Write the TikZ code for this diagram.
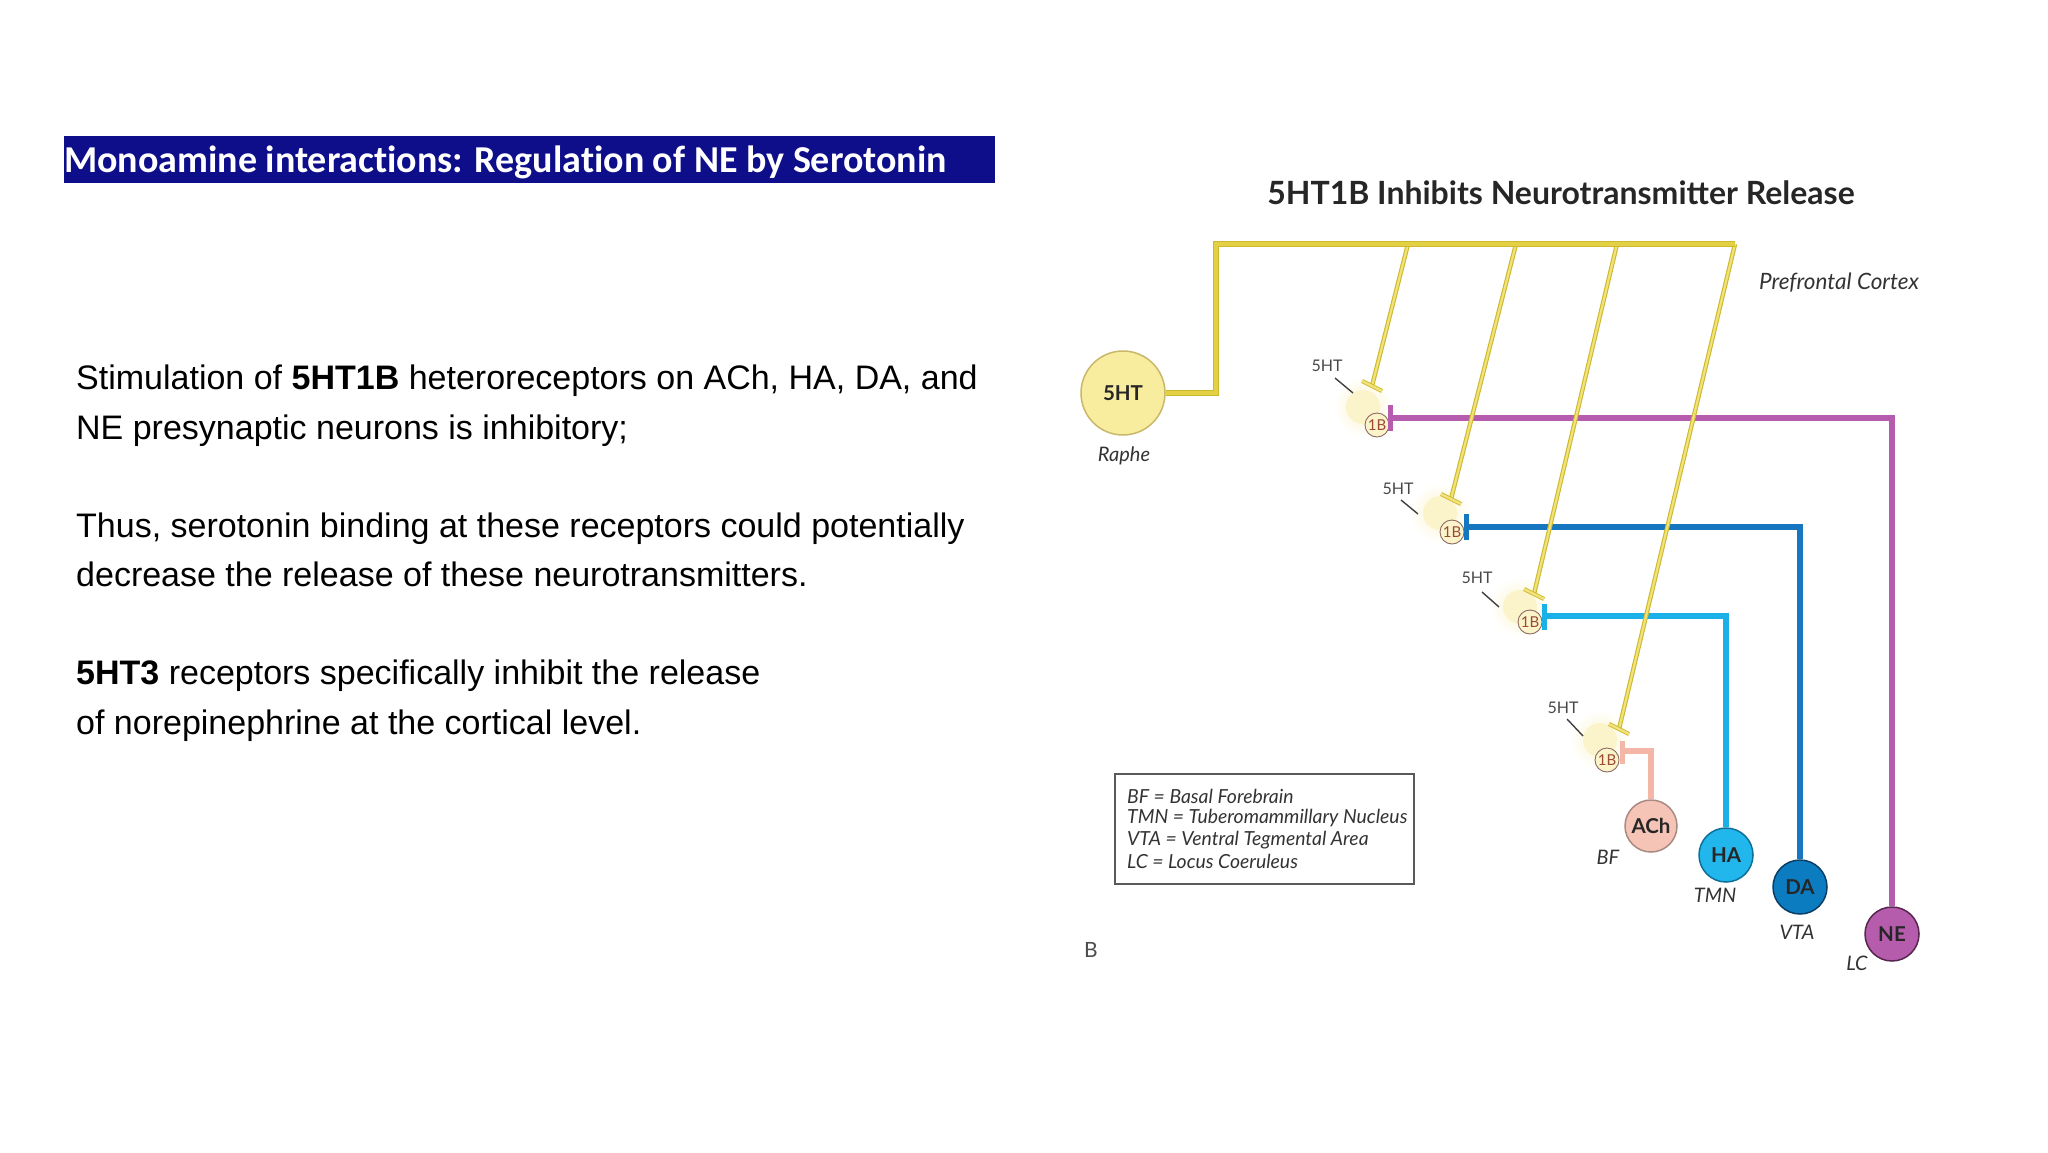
\documentclass[tikz,border=0pt]{standalone}
\usepackage{fontspec}
\setmainfont{Liberation Sans}
\newfontfamily\calib[Ligatures=NoCommon]{Carlito}
\newfontfamily\lato{Lato}
\usetikzlibrary{calc}
\definecolor{navy}{HTML}{0E0E8A}
\definecolor{serA}{HTML}{CDB92C}
\definecolor{serB}{HTML}{F1E27C}
\definecolor{serM}{HTML}{E3D044}
\definecolor{fiveF}{HTML}{F8EC9E}
\definecolor{fiveD}{HTML}{C9B76B}
\definecolor{achF}{HTML}{F6C4B6}
\definecolor{achD}{HTML}{A98A82}
\definecolor{achL}{HTML}{F4B6A6}
\definecolor{haF}{HTML}{21B7EC}
\definecolor{haD}{HTML}{0E6F98}
\definecolor{haL}{HTML}{1CB0E8}
\definecolor{daF}{HTML}{0C7CC0}
\definecolor{daD}{HTML}{0A3E66}
\definecolor{daL}{HTML}{1677C0}
\definecolor{neF}{HTML}{B65CAC}
\definecolor{neD}{HTML}{57264F}
\definecolor{neL}{HTML}{B65CAE}
\definecolor{blobC}{HTML}{FBF4CB}
\definecolor{oneB}{HTML}{9A4A35}
\definecolor{oneBd}{HTML}{8B6A60}
\definecolor{lab}{HTML}{333333}
\tikzset{
  bodytxt/.style={anchor=base west, inner sep=0, font=\fontsize{34}{40}\selectfont},
  neur/.style={circle, inner sep=0, line width=1.5pt, text=black!85, font=\lato\bfseries\fontsize{20.5}{22}\selectfont},
  itlab/.style={inner sep=0, text=lab, font=\lato\itshape\fontsize{20}{22}\selectfont},
  smlab/.style={inner sep=0, text=lab!90, font=\lato\fontsize{16}{18}\selectfont},
  legtxt/.style={anchor=west, inner sep=0, text=lab, font=\lato\itshape\fontsize{19.4}{20}\selectfont},
  serdiag/.style={draw=serA, line width=1.1pt, double=serB, double distance=2.2pt},
  sermain/.style={draw=serA, line width=1pt, double=serM, double distance=3.5pt, line join=miter},
  sertbar/.style={draw=serA, line width=0.9pt, double=serB, double distance=2.4pt},
  onebc/.style={circle, inner sep=0, minimum size=24, draw=oneBd, line width=0.9pt, fill=blobC, text=oneB, font=\lato\fontsize{15}{16}\selectfont},
  tickln/.style={draw=black!75, line width=1.4pt},
  nline/.style={line width=5.5pt},
}
\begin{document}
\begin{tikzpicture}[x=1pt,y=-1pt]
\useasboundingbox[fill=white] (0,0) rectangle (2048,1152);

% ---------- left side ----------
\node[fill=navy, minimum width=931, minimum height=47, anchor=north west, inner sep=0] (bar) at (64,136) {};
\node[anchor=base west, inner sep=0, text=white, font=\calib\bfseries\fontsize{38}{40}\selectfont] (title) at (64,172) {Monoamine interactions: Regulation of NE by Serotonin};

\node[bodytxt] (p1) at (76,389) {Stimulation of \textbf{5HT1B} heteroreceptors on ACh, HA, DA, and};
\node[bodytxt] (p2) at (76,439) {NE presynaptic neurons is inhibitory;};
\node[bodytxt] (p3) at (76,537) {Thus, serotonin binding at these receptors could potentially};
\node[bodytxt] (p4) at (76,586) {decrease the release of these neurotransmitters.};
\node[bodytxt] (p5) at (76,684) {\textbf{5HT3} receptors specifically inhibit the release};
\node[bodytxt] (p6) at (76,734) {of norepinephrine at the cortical level.};

% ---------- right diagram ----------
\node[inner sep=0, text=black!85, font=\lato\bfseries\fontsize{32}{34}\selectfont] (rtitle) at (1561,193) {5HT1B Inhibits Neurotransmitter Release};
\node[itlab, font=\lato\itshape\fontsize{22.5}{24}\selectfont] (pfc) at (1839,283) {Prefrontal Cortex};

% neurons
\node[neur, fill=fiveF, draw=fiveD, minimum size=84] (raphe) at (1123,393) {5HT};
\node[itlab] (raphelab) at (1124,456) {Raphe};
\node[neur, fill=achF, draw=achD, minimum size=52] (ach) at (1651,826) {ACh};
\node[neur, fill=haF, draw=haD, minimum size=54] (ha) at (1726,855) {HA};
\node[neur, fill=daF, draw=daD, minimum size=54] (da) at (1800,887) {DA};
\node[neur, fill=neF, draw=neD, minimum size=54] (ne) at (1892,934) {NE};
\node[itlab] (bf) at (1608,857) {BF};
\node[itlab] (tmn) at (1715,895) {TMN};
\node[itlab] (vta) at (1797,932) {VTA};
\node[itlab] (lc) at (1857,963) {LC};

% terminals (blobs)
\foreach \p in {{(1363,407)},{(1440,513)},{(1520,607)},{(1600,740)}}{
  \shade[inner color=blobC, outer color=white] \p circle (30);
  \fill[blobC] \p circle (17);
}
\node[onebc] (r1) at (1377,425) {1B};
\node[onebc] (r2) at (1452,532) {1B};
\node[onebc] (r3) at (1530,622) {1B};
\node[onebc] (r4) at (1607,760) {1B};

% 5HT labels with ticks
\node[smlab] (h1) at (1327,366) {5HT};
\node[smlab] (h2) at (1398,489) {5HT};
\node[smlab] (h3) at (1477,578) {5HT};
\node[smlab] (h4) at (1563,708) {5HT};
\coordinate (k1a) at (1335,378); \coordinate (k1b) at (1353,393);
\coordinate (k2a) at (1401,500); \coordinate (k2b) at (1418,514);
\coordinate (k3a) at (1482,592); \coordinate (k3b) at (1499,607);
\coordinate (k4a) at (1567,719); \coordinate (k4b) at (1583,736);
\draw[tickln] (k1a) -- (k1b);
\draw[tickln] (k2a) -- (k2b);
\draw[tickln] (k3a) -- (k3b);
\draw[tickln] (k4a) -- (k4b);

% coloured projection lines with inhibitory bars
\coordinate (m0) at (1390,418); \coordinate (m1) at (1892,418);
\coordinate (mb1) at (1390,405); \coordinate (mb2) at (1390,431);
\draw[neL, nline, line join=miter] (m0) -- (m1) -- (ne.north);
\draw[neL, line width=5pt] (mb1) -- (mb2);

\coordinate (b0) at (1466,527); \coordinate (b1) at (1800,527);
\coordinate (bb1) at (1466,514); \coordinate (bb2) at (1466,540);
\draw[daL, nline, line join=miter] (b0) -- (b1) -- (da.north);
\draw[daL, line width=5pt] (bb1) -- (bb2);

\coordinate (c0) at (1544,616); \coordinate (c1) at (1726,616);
\coordinate (cb1) at (1544,604); \coordinate (cb2) at (1544,630);
\draw[haL, nline, line join=miter] (c0) -- (c1) -- (ha.north);
\draw[haL, line width=5pt] (cb1) -- (cb2);

\coordinate (a0) at (1622,751); \coordinate (a1) at (1651,751);
\coordinate (ab1) at (1622,741); \coordinate (ab2) at (1622,764);
\draw[achL, nline, line join=miter] (a0) -- (a1) -- (ach.north);
\draw[achL, line width=5pt] (ab1) -- (ab2);

% serotonin projections
\coordinate (d1) at (1408,244); \coordinate (t1) at (1372,386);
\coordinate (d2) at (1516,244); \coordinate (t2) at (1451,499);
\coordinate (d3) at (1617,244); \coordinate (t3) at (1534,594);
\coordinate (d4) at (1735,244); \coordinate (t4) at (1619,729);
\draw[serdiag] (d1) -- (t1);
\draw[serdiag] (d2) -- (t2);
\draw[serdiag] (d3) -- (t3);
\draw[serdiag] (d4) -- (t4);
\foreach \t in {t1,t2,t3,t4}{
  \draw[sertbar] ($(\t)+(-10,-5)$) -- ($(\t)+(10,5)$);
}
\coordinate (yc1) at (1216,393); \coordinate (yc2) at (1216,244);
\draw[sermain] (raphe.east) -- (yc1) -- (yc2) -- (d4);

% legend
\node[draw=black!65, line width=1.5pt, minimum width=299, minimum height=110, anchor=north west, inner sep=0] (legend) at (1114,773) {};
\node[legtxt] (lg1) at (1127,796) {BF = Basal Forebrain};
\node[legtxt] (lg2) at (1127,818) {TMN = Tuberomammillary Nucleus};
\node[legtxt] (lg3) at (1127,840) {VTA = Ventral Tegmental Area};
\node[legtxt] (lg4) at (1127,861) {LC = Locus Coeruleus};
\node[inner sep=0, text=black!70, font=\lato\fontsize{21}{22}\selectfont] (blab) at (1091,950) {B};
\end{tikzpicture}
\end{document}
